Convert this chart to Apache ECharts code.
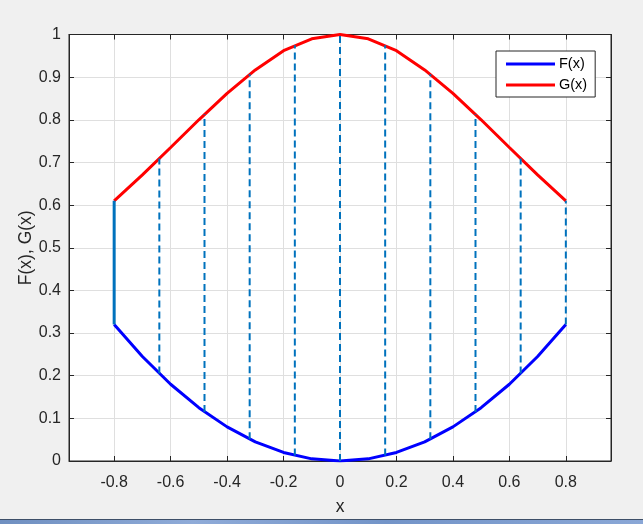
<!DOCTYPE html>
<html>
<head>
<meta charset="utf-8">
<script src="https://cdn.jsdelivr.net/npm/echarts@6/dist/echarts.min.js"></script>
<style>
html,body{margin:0;padding:0;background:#f0f0f0;}
#chart{width:643px;height:524px;}
</style>
</head>
<body>
<div id="chart"></div>
<script>
// ---- data ----
const xs = [-0.8,-0.7,-0.6,-0.5,-0.4,-0.3,-0.2,-0.1,0,0.1,0.2,0.3,0.4,0.5,0.6,0.7,0.8];
const fVals = [0.32,0.245,0.18,0.125,0.08,0.045,0.02,0.005,0,0.005,0.02,0.045,0.08,0.125,0.18,0.245,0.32];
const gVals = [0.61,0.671,0.735,0.8,0.862,0.917,0.962,0.99,1,0.99,0.962,0.917,0.862,0.8,0.735,0.671,0.61];
const dashX = [-0.64,-0.48,-0.32,-0.16,0,0.16,0.32,0.48,0.64,0.8];
const dashLow = [0.205,0.115,0.051,0.013,0,0.013,0.051,0.115,0.205,0.32];
const dashHigh = [0.709,0.813,0.907,0.975,1,0.975,0.907,0.813,0.709,0.61];
const edgeX = [-0.8];
const edgeLow = [0.32];
const edgeHigh = [0.61];
const xTicks = [-0.8,-0.6,-0.4,-0.2,0,0.2,0.4,0.6,0.8];
const yTicks = [0,0.1,0.2,0.3,0.4,0.5,0.6,0.7,0.8,0.9,1];

const axisColor = '#262626';
const gridColor = '#dfdfdf';
const font = '"Liberation Sans", Arial, sans-serif';

function pairs(x, y){ return x.map((v,i)=>[v,y[i]]); }
function segs(x, lo, hi){
  const out = [];
  x.forEach((v,i)=>{ out.push([v,lo[i]]); out.push([v,hi[i]]); out.push([v,'-']); });
  return out;
}
function fmt(v){ return String(Math.round(v*10)/10); }

const chart = echarts.init(document.getElementById('chart'), null, {renderer:'canvas'});
chart.setOption({
  backgroundColor:'#f0f0f0',
  animation:false,
  grid:{left:69, right:32, top:34.5, bottom:63, show:true, backgroundColor:'#ffffff', borderColor:axisColor, borderWidth:1, containLabel:false},
  legend:{
    orient:'vertical', left:496, top:51,
    data:['F(x)','G(x)'],
    backgroundColor:'#ffffff', borderColor:axisColor, borderWidth:1, borderRadius:0,
    padding:[5,8,4,10], itemGap:5,
    itemWidth:49, itemHeight:3, icon:'rect',
    textStyle:{fontFamily:font, fontSize:14.5, color:'#000', lineHeight:16, padding:[0,0,0,-1]}
  },
  xAxis:[{
    type:'value', min:-0.96, max:0.96, position:'bottom',
    name:'x', nameLocation:'middle', nameGap:37, nameMoveOverlap:false,
    nameTextStyle:{fontFamily:font, fontSize:17.5, color:axisColor},
    axisLine:{show:true, onZero:false, lineStyle:{color:axisColor, width:1}},
    axisTick:{show:true, inside:true, length:5, customValues:xTicks, lineStyle:{color:axisColor}},
    axisLabel:{show:true, customValues:xTicks, margin:14, fontFamily:font, fontSize:16, color:axisColor, formatter:fmt},
    splitLine:{show:true, lineStyle:{color:gridColor, width:1}}
  },{
    type:'value', min:-0.96, max:0.96, position:'top',
    axisLine:{show:true, onZero:false, lineStyle:{color:axisColor, width:1}},
    axisTick:{show:true, inside:true, length:5, customValues:xTicks, lineStyle:{color:axisColor}},
    axisLabel:{show:false, customValues:xTicks},
    splitLine:{show:false}
  }],
  yAxis:[{
    type:'value', min:0, max:1, interval:0.1, position:'left',
    name:'F(x), G(x)', nameLocation:'middle', nameGap:34, nameMoveOverlap:false,
    nameTextStyle:{fontFamily:font, fontSize:17.5, color:axisColor},
    axisLine:{show:true, onZero:false, lineStyle:{color:axisColor, width:1}},
    axisTick:{show:true, inside:true, length:5, lineStyle:{color:axisColor}},
    axisLabel:{show:true, margin:8, fontFamily:font, fontSize:16, color:axisColor, formatter:fmt},
    splitLine:{show:true, lineStyle:{color:gridColor, width:1}}
  },{
    type:'value', min:0, max:1, interval:0.1, position:'right',
    axisLine:{show:true, onZero:false, lineStyle:{color:axisColor, width:1}},
    axisTick:{show:true, inside:true, length:5, lineStyle:{color:axisColor}},
    axisLabel:{show:false},
    splitLine:{show:false}
  }],
  graphic:[
    {type:'rect', left:0, top:519, shape:{width:643, height:1}, style:{fill:'#3d4f68'}, silent:true},
    {type:'rect', left:0, top:520, shape:{width:643, height:4}, silent:true,
     style:{fill:new echarts.graphic.LinearGradient(0,0,1,0,[
       {offset:0,color:'#6f8fc0'},{offset:0.3,color:'#8fabd8'},{offset:0.6,color:'#7394c8'},{offset:1,color:'#8aa7d6'}])}}
  ],
  series:[
    {name:'F(x)', type:'line', data:pairs(xs,fVals), showSymbol:false, symbol:'none',
     lineStyle:{color:'#0000ff', width:3}, itemStyle:{color:'#0000ff'}, z:2},
    {name:'G(x)', type:'line', data:pairs(xs,gVals), showSymbol:false, symbol:'none',
     lineStyle:{color:'#ff0000', width:3}, itemStyle:{color:'#ff0000'}, z:2},
    {name:'edge', type:'line', data:segs(edgeX,edgeLow,edgeHigh), showSymbol:false, symbol:'none', connectNulls:false,
     lineStyle:{color:'#0072bd', width:3}, z:3},
    {name:'strips', type:'line', data:segs(dashX,dashLow,dashHigh), showSymbol:false, symbol:'none', connectNulls:false,
     lineStyle:{color:'#0072bd', width:2, type:[7,4]}, z:3}
  ]
});
</script>
</body>
</html>
